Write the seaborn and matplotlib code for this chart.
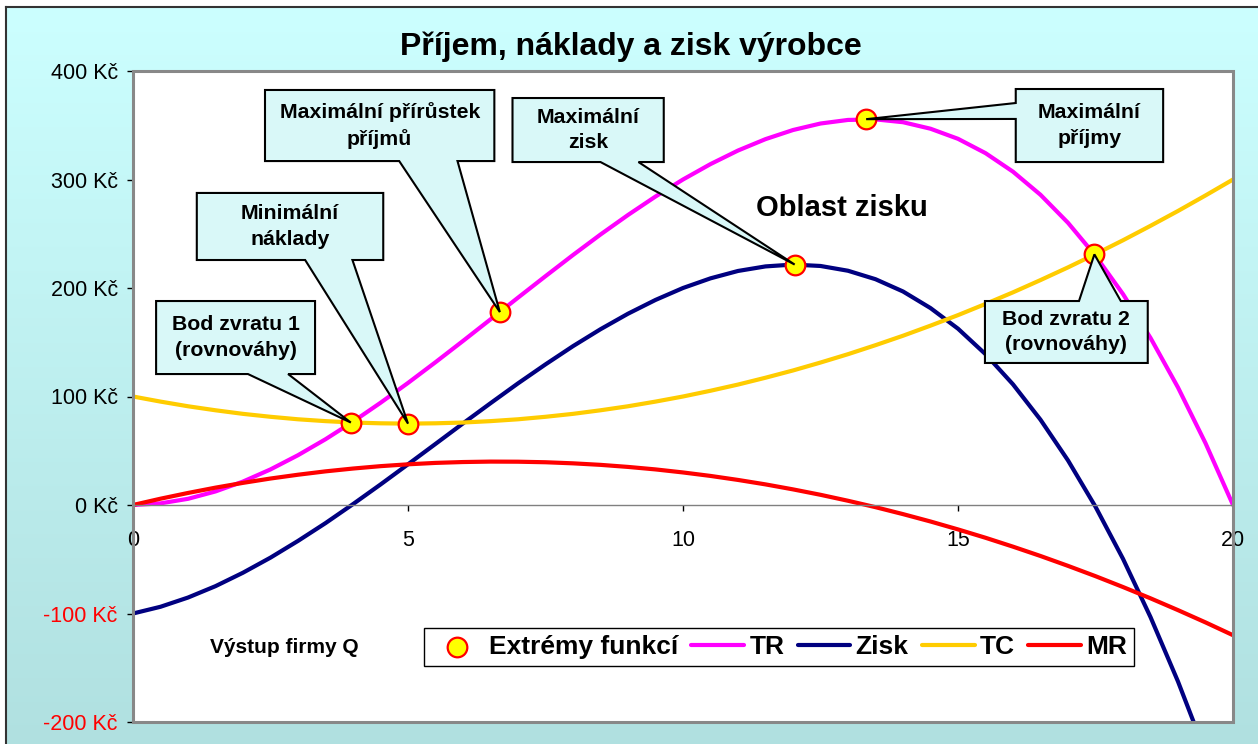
import numpy as np
import matplotlib
matplotlib.use('Agg')
import matplotlib.pyplot as plt
from matplotlib.patches import Polygon, Rectangle
import seaborn as sns

# Hodnoty (krok Q = 0.5)
q = [0, 0.5, 1, 1.5, 2, 2.5, 3, 3.5, 4, 4.5, 5, 5.5, 6, 6.5, 7, 7.5, 8, 8.5, 9, 9.5,
     10, 10.5, 11, 11.5, 12, 12.5, 13, 13.5, 14, 14.5, 15, 15.5, 16, 16.5, 17, 17.5,
     18, 18.5, 19, 19.5, 20]
tr = [0.0, 1.5, 5.7, 12.5, 21.6, 32.8, 45.9, 60.6, 76.8, 94.2, 112.5, 131.6, 151.2,
      171.1, 191.1, 210.9, 230.4, 249.3, 267.3, 284.3, 300.0, 314.2, 326.7, 337.2,
      345.6, 351.6, 354.9, 355.4, 352.8, 346.8, 337.5, 324.3, 307.2, 285.9, 260.1,
      229.7, 194.4, 154.0, 108.3, 57.0, 0.0]
tc = [100.0, 95.3, 91.0, 87.3, 84.0, 81.3, 79.0, 77.3, 76.0, 75.3, 75.0, 75.3, 76.0,
      77.3, 79.0, 81.3, 84.0, 87.3, 91.0, 95.3, 100.0, 105.3, 111.0, 117.3, 124.0,
      131.3, 139.0, 147.3, 156.0, 165.3, 175.0, 185.3, 196.0, 207.3, 219.0, 231.3,
      244.0, 257.3, 271.0, 285.3, 300.0]
zisk = [-100.0, -93.8, -85.3, -74.8, -62.4, -48.5, -33.1, -16.7, 0.8, 18.9, 37.5,
        56.3, 75.2, 93.8, 112.1, 129.6, 146.4, 162.0, 176.3, 189.0, 200.0, 208.9,
        215.7, 219.9, 221.6, 220.3, 215.9, 208.1, 196.8, 181.5, 162.5, 139.0, 111.2,
        78.6, 41.1, -1.6, -49.6, -103.3, -162.7, -228.3, -300.0]
mr = [0.0, 5.8, 11.1, 16.0, 20.4, 24.4, 27.9, 31.0, 33.6, 35.8, 37.5, 38.8, 39.6,
      40.0, 39.9, 39.4, 38.4, 37.0, 35.1, 32.8, 30.0, 26.8, 23.1, 19.0, 14.4, 9.4,
      3.9, -2.0, -8.4, -15.2, -22.5, -30.2, -38.4, -47.0, -56.1, -65.6, -75.6, -86.0,
      -96.9, -108.2, -120.0]

# Extrémy funkcí
ext_q = [3.96, 5.0, 6.67, 12.03, 13.33, 17.48]
ext_v = [76.0, 75.0, 177.8, 221.6, 355.6, 231.0]
ext_labels = ['Bod zvratu 1\n(rovnováhy)', 'Minimální\nnáklady',
              'Maximální přírůstek\npříjmů', 'Maximální\nzisk',
              'Maximální\npříjmy', 'Bod zvratu 2\n(rovnováhy)']

y_ticks = [-200, -100, 0, 100, 200, 300, 400]
x_ticks = [0, 5, 10, 15, 20]

# rámečky popisků: (x0, x1, y0, y1), strana klínu, základna klínu
boxes = [
    ((0.42, 3.31, 120.7, 188.0), 'bottom', (2.09, 2.82)),
    ((1.16, 4.55, 225.8, 287.6), 'bottom', (3.13, 3.99)),
    ((2.40, 6.57, 317.0, 382.5), 'bottom', (4.84, 5.90)),
    ((6.90, 9.65, 316.1, 375.1), 'bottom', (8.50, 9.19)),
    ((16.05, 18.73, 316.1, 383.4), 'left', (355.8, 370.5)),
    ((15.49, 18.45, 130.9, 188.0), 'top', (17.20, 17.96)),
]

sns.set_style('white')
plt.rcParams['font.family'] = ['Liberation Sans', 'DejaVu Sans']
plt.rcParams['text.color'] = 'black'
plt.rcParams['xtick.color'] = 'black'
plt.rcParams['ytick.color'] = 'black'

W, H = 1258, 744
fig = plt.figure(figsize=(W / 100, H / 100), dpi=100)
fig.patch.set_facecolor('white')

# pozadí s přechodem
bg = fig.add_axes([6 / W, -0.01, 1.0, (H - 7) / H + 0.01], zorder=0)
grad = np.linspace(0, 1, 256).reshape(-1, 1)
top_c = np.array([204, 255, 255]) / 255
bot_c = np.array([176, 224, 224]) / 255
img = top_c[None, None, :] * (1 - grad[:, :, None]) + bot_c[None, None, :] * grad[:, :, None]
bg.imshow(img, aspect='auto', extent=[0, 1, 0, 1])
bg.set_xticks([])
bg.set_yticks([])
for side in ['right', 'bottom']:
    bg.spines[side].set_visible(False)
for side in ['top', 'left']:
    bg.spines[side].set_color('#333333')
    bg.spines[side].set_linewidth(1.5)

ax = fig.add_axes([133 / W, (H - 722) / H, 1100 / W, 651 / H], zorder=1)
ax.set_facecolor('white')

sns.lineplot(x=q, y=tr, ax=ax, color='#FF00FF', lw=3, label='TR', zorder=2)
sns.lineplot(x=q, y=zisk, ax=ax, color='#000080', lw=3, label='Zisk', zorder=2)
sns.lineplot(x=q, y=tc, ax=ax, color='#FFCC00', lw=3, label='TC', zorder=2)
sns.lineplot(x=q, y=mr, ax=ax, color='#FF0000', lw=3, label='MR', zorder=2)
sns.scatterplot(x=ext_q, y=ext_v, ax=ax, s=200, color='#FFFF00', edgecolor='#FF0000',
                linewidth=1.6, label='Extrémy funkcí', zorder=3)

ax.set_xlim(0, 20)
ax.set_ylim(-200, 400)
ax.set_xticks(x_ticks)
ax.set_yticks(y_ticks)
ax.set_yticklabels([f'{v} Kč' for v in y_ticks])
for lab, v in zip(ax.get_yticklabels(), y_ticks):
    lab.set_color('#FF0000' if v < 0 else 'black')
ax.tick_params(axis='y', direction='out', length=4, width=1, pad=7, labelsize=15.5,
               left=True, color='black')
ax.tick_params(axis='x', direction='out', length=4, width=1, pad=14, labelsize=15.5,
               bottom=True, color='black', labelcolor='black')

ax.spines['bottom'].set_position(('data', 0))
ax.spines['bottom'].set_color('#808080')
ax.spines['bottom'].set_linewidth(1)
ax.spines['left'].set_color('black')
ax.spines['left'].set_linewidth(1.2)
ax.spines['top'].set_visible(False)
ax.spines['right'].set_visible(False)
ax.add_patch(Rectangle((0, 0), 1, 1, transform=ax.transAxes, fill=False,
                       edgecolor='#888888', lw=2.2, zorder=6, clip_on=False))
ax.set_xlabel('')
ax.set_ylabel('')

# popisky s klínem
for (box, side, base), lbl, px, py in zip(boxes, ext_labels, ext_q, ext_v):
    x0, x1, y0, y1 = box
    b1, b2 = base
    if side == 'bottom':
        verts = [(x0, y1), (x1, y1), (x1, y0), (b2, y0), (px, py), (b1, y0), (x0, y0)]
    elif side == 'top':
        verts = [(x0, y0), (x1, y0), (x1, y1), (b2, y1), (px, py), (b1, y1), (x0, y1)]
    else:
        verts = [(x0, y1), (x1, y1), (x1, y0), (x0, y0), (x0, b1), (px, py), (x0, b2)]
    ax.add_patch(Polygon(verts, closed=True, facecolor='#d9f8f8', edgecolor='black',
                         lw=1.5, zorder=4, joinstyle='miter'))
    ax.text((x0 + x1) / 2, (y0 + y1) / 2, lbl, ha='center', va='center',
            fontsize=15.3, fontweight='bold', linespacing=1.45, zorder=5)

ax.text(12.88, 273.7, 'Oblast zisku', ha='center', va='center', fontsize=21,
        fontweight='bold', zorder=5)
ax.text(2.75, -130.9, 'Výstup firmy Q', ha='center', va='center', fontsize=15,
        fontweight='bold', zorder=5)

fig.text(631 / W, 1 - 47 / H, 'Příjem, náklady a zisk výrobce', ha='center',
         va='center', fontsize=23, fontweight='bold')

handles, labels = ax.get_legend_handles_labels()
order = ['Extrémy funkcí', 'TR', 'Zisk', 'TC', 'MR']
hmap = dict(zip(labels, handles))
leg = ax.legend([hmap[k] for k in order], order, ncol=5, loc='center',
                bbox_to_anchor=(779 / W, 1 - 647 / H), bbox_transform=fig.transFigure,
                fancybox=False, framealpha=1, edgecolor='black',
                prop={'weight': 'bold', 'size': 19}, handlelength=2.0,
                handletextpad=0.2, columnspacing=0.5, borderpad=0.25,
                borderaxespad=0)
leg.get_frame().set_linewidth(1)
leg.set_zorder(7)

fig.savefig('out.png', dpi=100)
